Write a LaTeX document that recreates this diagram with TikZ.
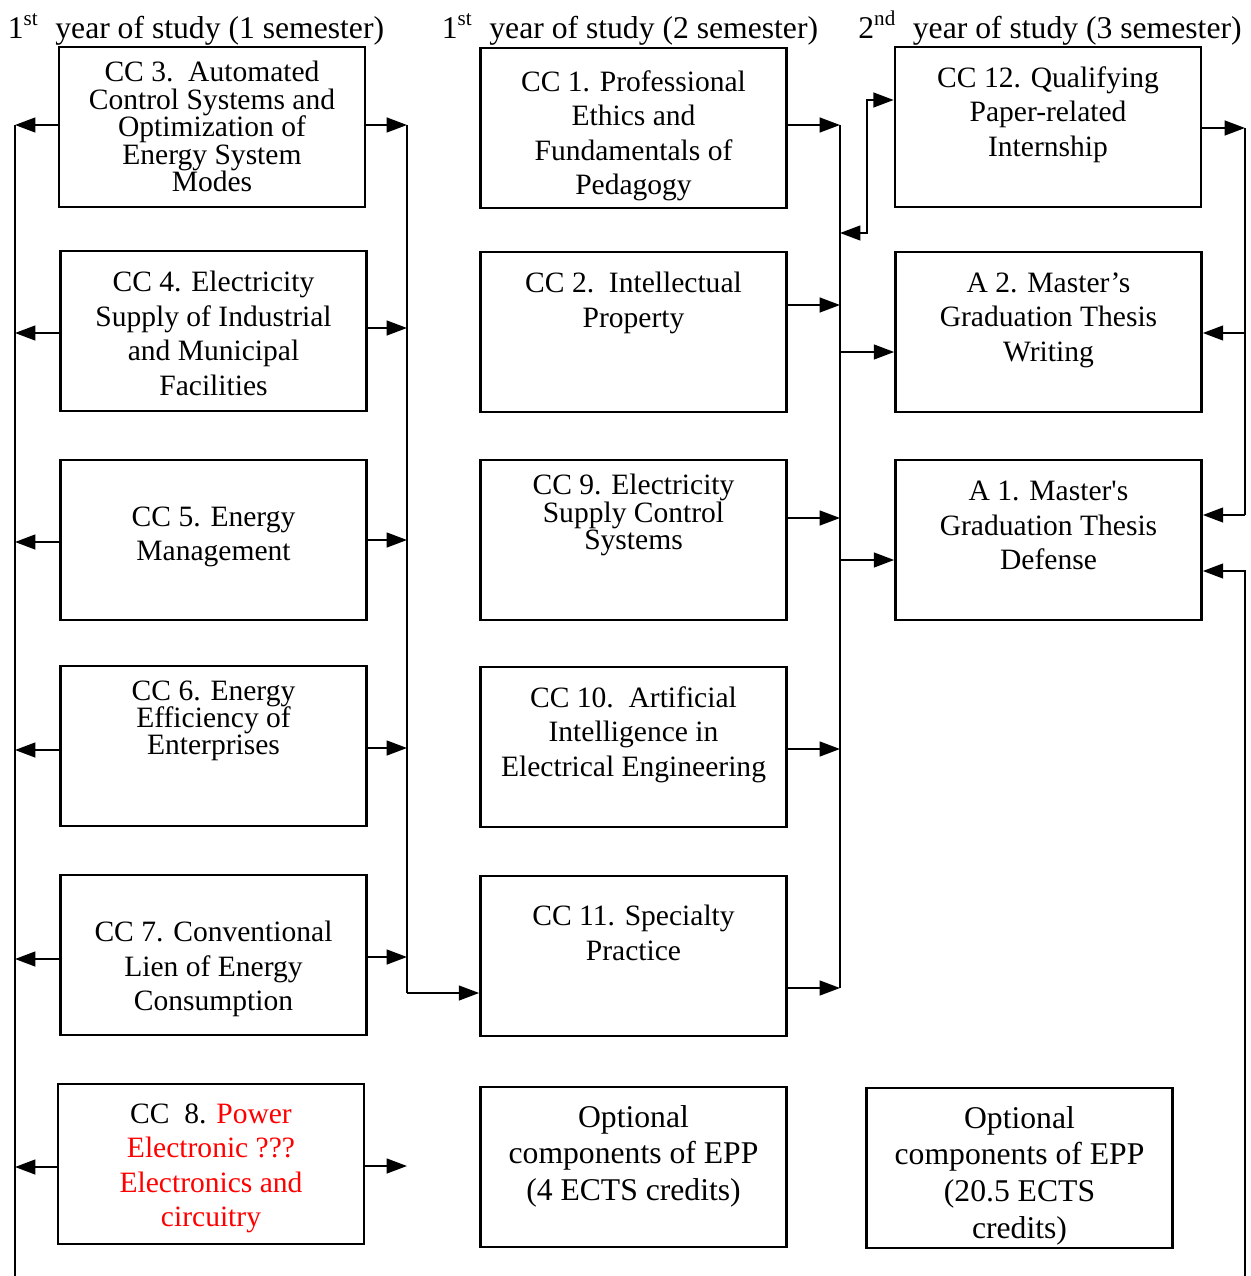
\documentclass[tikz,border=0pt]{standalone}
\usepackage{fontspec}
\setmainfont{Liberation Serif}
\newfontfamily\rawserif{Liberation Serif}
\usetikzlibrary{arrows.meta,positioning,calc}

\begin{document}
\begin{tikzpicture}
   [x=0.01cm,y=-0.01cm,
box/.style={shape=rectangle,draw=black,line width=0.7pt,inner sep=0pt,
minimum width=3.06cm,minimum height=1.6cm},
txt/.style={align=center,inner sep=0pt,anchor=north,
font=\fontsize{8.4}{9.8}\selectfont},
tight/.style={font=\fontsize{8.4}{7.8}\selectfont},
opt/.style={font=\fontsize{9}{10.4}\selectfont},
hdr/.style={anchor=base,inner sep=0pt,font=\fontsize{9}{10}\selectfont},
link/.style={line width=0.6pt,>={Triangle[length=5.8pt,width=4.2pt]}}]
\useasboundingbox (0,0) rectangle (1250,1276);
%%
%% headers
\node (h1) [hdr] at (196,39) {1\textsuperscript{st}\ \ year of study (1 semester)};
\node (h2) [hdr] at (630,39) {1\textsuperscript{st}\ \ year of study (2 semester)};
\node (h3) [hdr] at (1050,39) {2\textsuperscript{nd}\ \ year of study (3 semester)};
%%
%% 1 semester
\node (cc3) [box] at (212,127) {};
\node (cc3t) [txt,tight,below=0.15cm of cc3.north] {CC 3.\ \ Automated\\Control Systems and\\Optimization of\\Energy System\\Modes};
\node (cc4) [box] at (213.5,331) {};
\node (cc4t) [txt,below=0.21cm of cc4.north] {CC 4. Electricity\\Supply of Industrial\\and Municipal\\Facilities};
\node (cc5) [box] at (213.5,540) {};
\node (cc5t) [txt,below=0.47cm of cc5.north] {CC 5. Energy\\Management};
\node (cc6) [box] at (213.5,746) {};
\node (cc6t) [txt,tight,below=0.15cm of cc6.north] {CC 6. Energy\\Efficiency of\\Enterprises};
\node (cc7) [box] at (213.5,955) {};
\node (cc7t) [txt,below=0.47cm of cc7.north] {CC 7. Conventional\\Lien of Energy\\Consumption};
\node (cc8) [box] at (211,1164) {};
\node (cc8t) [txt,below=0.20cm of cc8.north] {CC\ \ 8. \textcolor{red}{Power}\\\textcolor{red}{Electronic ???}\\\textcolor{red}{Electronics and}\\\textcolor{red}{circuitry}};
%%
%% 2 semester
\node (cc1) [box] at (633.5,128) {};
\node (cc1t) [txt,below=0.23cm of cc1.north] {CC 1. Professional\\Ethics and\\Fundamentals of\\Pedagogy};
\node (cc2) [box] at (633.5,332) {};
\node (cc2t) [txt,below=0.21cm of cc2.north] {CC 2.\ \ Intellectual\\Property};
\node (cc9) [box] at (633.5,540) {};
\node (cc9t) [txt,tight,below=0.15cm of cc9.north] {CC 9. Electricity\\Supply Control\\Systems};
\node (cc10) [box] at (633.5,747) {};
\node (cc10t) [txt,below=0.20cm of cc10.north] {CC 10.\ \ Artificial\\Intelligence in\\Electrical Engineering};
\node (cc11) [box] at (633.5,956) {};
\node (cc11t) [txt,below=0.30cm of cc11.north] {CC 11. Specialty\\Practice};
\node (opt1) [box] at (633.5,1167) {};
\node (opt1t) [txt,opt,below=0.19cm of opt1.north] {Optional\\components of EPP\\(4 ECTS credits)};
%%
%% 3 semester
\node (cc12) [box] at (1048,127) {};
\node (cc12t) [txt,below=0.20cm of cc12.north] {CC 12. Qualifying\\Paper-related\\Internship};
\node (a2) [box] at (1048.5,332) {};
\node (a2t) [txt,below=0.21cm of a2.north] {A 2. Master’s\\Graduation Thesis\\Writing};
\node (a1) [box] at (1048.5,540) {};
\node (a1t) [txt,below=0.22cm of a1.north] {A 1. Master{\rawserif '}s\\Graduation Thesis\\Defense};
\node (opt2) [box] at (1019.5,1168) {};
\node (opt2t) [txt,opt,below=0.19cm of opt2.north] {Optional\\components of EPP\\(20.5 ECTS\\credits)};
%%
%% bus points
\coordinate (l3) at (15,125);
\coordinate (l4) at (15,333);
\coordinate (l5) at (15,542);
\coordinate (l6) at (15,750);
\coordinate (l7) at (15,959);
\coordinate (l8) at (15,1167);
\coordinate (lend) at (15,1276);
\coordinate (m3) at (407,125);
\coordinate (m4) at (407,328);
\coordinate (m5) at (407,540);
\coordinate (m6) at (407,748);
\coordinate (m7) at (407,957);
\coordinate (m8) at (407,1166);
\coordinate (mend) at (407,993);
\coordinate (n1) at (840,125);
\coordinate (n2) at (840,305);
\coordinate (n9) at (840,518);
\coordinate (n10) at (840,749);
\coordinate (n11) at (840,988);
\coordinate (k12) at (840,233);
\coordinate (j12) at (867,100);
\coordinate (na2) at (840,352);
\coordinate (na1) at (840,560);
\coordinate (r12) at (1245,128);
\coordinate (ra2) at (1245,333);
\coordinate (ra1) at (1245,515);
\coordinate (rd) at (1245,571);
\coordinate (rend) at (1245,1276);
%%
%% left bus
\draw[link] (l3) -- (lend);
\draw[link,->] (cc3.west |- l3) -- (l3);
\draw[link,->] (cc4.west |- l4) -- (l4);
\draw[link,->] (cc5.west |- l5) -- (l5);
\draw[link,->] (cc6.west |- l6) -- (l6);
\draw[link,->] (cc7.west |- l7) -- (l7);
\draw[link,->] (cc8.west |- l8) -- (l8);
%%
%% 1 semester -> 2 semester
\draw[link] (m3) -- (mend);
\draw[link,->] (cc3.east |- m3) -- (m3);
\draw[link,->] (cc4.east |- m4) -- (m4);
\draw[link,->] (cc5.east |- m5) -- (m5);
\draw[link,->] (cc6.east |- m6) -- (m6);
\draw[link,->] (cc7.east |- m7) -- (m7);
\draw[link,->] (cc8.east |- m8) -- (m8);
\draw[link,->] (mend) -- (cc11.west |- mend);
%%
%% 2 semester -> 3 semester
\draw[link] (n1) -- (n11);
\draw[link,->] (cc1.east |- n1) -- (n1);
\draw[link,->] (cc2.east |- n2) -- (n2);
\draw[link,->] (cc9.east |- n9) -- (n9);
\draw[link,->] (cc10.east |- n10) -- (n10);
\draw[link,->] (cc11.east |- n11) -- (n11);
\draw[link,<->] (k12) -| (j12) -- (cc12.west |- j12);
\draw[link,->] (na2) -- (a2.west |- na2);
\draw[link,->] (na1) -- (a1.west |- na1);
%%
%% right bus
\draw[link] (r12) -- (ra1);
\draw[link,->] (cc12.east |- r12) -- (r12);
\draw[link,->] (ra2) -- (a2.east |- ra2);
\draw[link,->] (ra1) -- (a1.east |- ra1);
\draw[link,->] (rend) |- (a1.east |- rd);
\end{tikzpicture}
\end{document}
